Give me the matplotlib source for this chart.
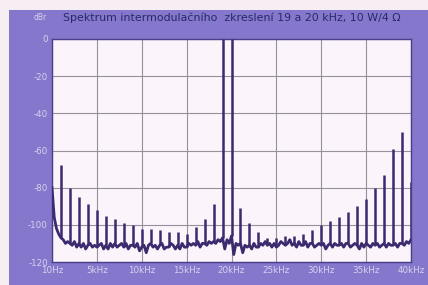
import matplotlib.pyplot as plt
from matplotlib.patches import Rectangle
import numpy as np

# noise floor, sampled every 0.25 kHz from 0 to 40 kHz (dBr)
floor_db = [
    -80, -96, -102, -105,
    -107, -108, -110, -109,
    -110, -111, -109, -112,
    -110, -112, -110, -113,
    -111, -110, -112, -111,
    -112, -111, -110, -113,
    -111, -113, -110, -112,
    -110, -112, -111, -110,
    -112, -110, -113, -111,
    -111, -112, -110, -114,
    -112, -111, -115, -111,
    -110, -112, -111, -113,
    -111, -110, -113, -112,
    -112, -110, -111, -113,
    -111, -113, -110, -112,
    -112, -110, -111, -110,
    -111, -109, -112, -110,
    -110, -111, -109, -110,
    -109, -110, -108, -109,
    -107, -113, -108, -110,
    -106, -116, -110, -111,
    -110, -115, -111, -112,
    -111, -113, -110, -112,
    -112, -110, -111, -109,
    -111, -110, -112, -110,
    -112, -111, -109, -110,
    -111, -110, -108, -111,
    -110, -112, -109, -111,
    -111, -109, -112, -110,
    -110, -112, -111, -110,
    -111, -110, -113, -111,
    -110, -112, -110, -111,
    -111, -110, -112, -110,
    -110, -112, -111, -110,
    -111, -113, -110, -112,
    -110, -111, -112, -110,
    -111, -110, -112, -111,
    -110, -112, -110, -111,
    -111, -110, -112, -110,
    -110, -111, -109, -110,
    -108,
]
floor_khz = [i * 0.25 for i in range(len(floor_db))]

# intermodulation products / tones (kHz, dBr)
peak_khz = [1, 2, 3, 4, 5, 6, 7, 8, 9, 10, 11, 12, 13, 14, 15, 16, 17, 18,
            19, 20, 21, 22, 23, 24, 25, 26, 27, 28, 29, 30, 31, 32, 33, 34,
            35, 36, 37, 38, 39, 40]
peak_db = [-68, -80, -85, -89, -92, -95, -97, -99, -100, -102, -102, -103,
           -104, -104, -105, -101, -97, -89,
           0, 0,
           -91, -99, -104, -107, -107, -106, -106, -105, -103, -100, -98,
           -96, -93, -90, -86, -80, -73, -59, -50, -77]

x_ticks = [0, 5, 10, 15, 20, 25, 30, 35, 40]
x_labels = ['10Hz', '5kHz', '10kHz', '15kHz', '20kHz', '25kHz', '30kHz', '35kHz', '40kHz']
y_ticks = [0, -20, -40, -60, -80, -100, -120]

frame = '#8578cc'
trace = '#3b2a6e'

fig = plt.figure(figsize=(4.28, 2.85), dpi=100)
fig.patch.set_facecolor('#f7eef4')
fig.patches.append(Rectangle((9 / 428, 0), 1, 1 - 10 / 285, transform=fig.transFigure,
                             facecolor=frame, edgecolor='none', zorder=-10))

ax = fig.add_axes([52 / 428, 1 - 262 / 285, 359 / 428, 223 / 285])
ax.set_facecolor('#fbf5fb')

ax.plot(floor_khz, floor_db, color=trace, lw=2.0, zorder=3)
# spikes start from the floor value at the same frequency
base = [floor_db[floor_khz.index(float(f))] for f in peak_khz]
ax.vlines(peak_khz, base, peak_db, color=trace, lw=1.8, zorder=3)

ax.set_xlim(0, 40)
ax.set_ylim(-120, 0)
ax.set_xticks(x_ticks)
ax.set_xticklabels(x_labels)
ax.set_yticks(y_ticks)
ax.set_yticklabels([str(v) for v in y_ticks])
ax.grid(True, color='#96919c', lw=0.8)
ax.set_axisbelow(True)
ax.tick_params(length=0, pad=3, labelsize=6.3, colors='#d6d1ee')
for s in ax.spines.values():
    s.set_color('#4b3f8c')
    s.set_linewidth(1.0)

fig.text(40 / 428, 1 - 18 / 285, 'dBr', fontsize=5.5, color='#d6d1ee',
         ha='center', va='center')
fig.text(63 / 428, 1 - 18 / 285,
         'Spektrum intermodulačního  zkreslení 19 a 20 kHz, 10 W/4 Ω',
         fontsize=7.9, color='#28296a', ha='left', va='center')

fig.savefig('out.png', dpi=100, facecolor=fig.get_facecolor())
